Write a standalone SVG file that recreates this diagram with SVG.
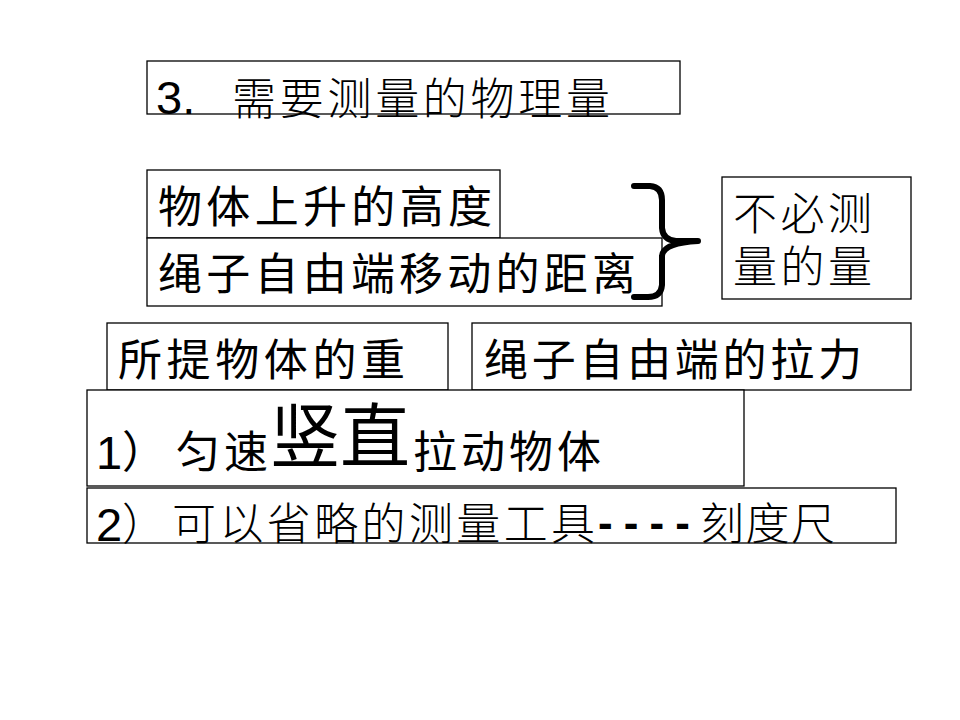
<svg xmlns="http://www.w3.org/2000/svg" width="960" height="720" viewBox="0 0 960 720">
<style>
.box{fill:#fff;stroke:#000;stroke-width:1.3}
.t{font-family:"Liberation Sans","Noto Sans CJK SC",sans-serif;font-size:44px;fill:#000;dominant-baseline:central}
.s{font-family:"Liberation Serif","Noto Sans CJK SC",serif;font-size:44px;fill:#000;font-weight:300;dominant-baseline:central}
.n{font-family:"Liberation Sans",sans-serif;font-size:47px;fill:#000}
.brace{fill:none;stroke:#000;stroke-width:6;stroke-linejoin:round;stroke-linecap:round}
</style>
<rect width="960" height="720" fill="#fff"/>
<g id="title">
<rect class="box" x="147" y="61" width="533" height="53"/>
<text class="n" x="156" y="114">3.</text>
<text class="s" x="232" y="100" textLength="378" lengthAdjust="spacing">需要测量的物理量</text>
</g>
<g id="height">
<rect class="box" x="147" y="170" width="353" height="68"/>
<text class="t" x="158" y="207" textLength="334" lengthAdjust="spacing">物体上升的高度</text>
</g>
<g id="distance">
<rect class="box" x="147" y="238" width="515" height="68"/>
<text class="t" x="158" y="274" textLength="478" lengthAdjust="spacing">绳子自由端移动的距离</text>
</g>
<g id="connectors">
<path class="brace" d="M634,186 L650,186 Q662,187 662,200 L662,228 Q663,240 676,241 L698,241 Q663,243 662,256 L662,285 Q661,297 648,297 L634,297"/>
</g>
<g id="notneeded">
<rect class="box" x="722" y="177" width="189" height="122"/>
<text class="s" x="733" y="215" textLength="139" lengthAdjust="spacing">不必测</text>
<text class="s" x="733" y="268" textLength="139" lengthAdjust="spacing">量的量</text>
</g>
<g id="weight">
<rect class="box" x="107" y="323" width="341" height="67"/>
<text class="t" x="118" y="360" textLength="287" lengthAdjust="spacing">所提物体的重</text>
</g>
<g id="pull">
<rect class="box" x="472" y="323" width="439" height="67"/>
<text class="t" x="484" y="360" textLength="378" lengthAdjust="spacing">绳子自由端的拉力</text>
</g>
<g id="note1">
<rect class="box" x="87" y="390" width="657" height="96"/>
<text class="n" x="96" y="469">1</text>
<text class="t" x="122" y="452">）</text>
<text class="t" x="176" y="452" textLength="92" lengthAdjust="spacing">匀速</text>
<text class="t" x="270" y="438" style="font-size:70px" textLength="140" lengthAdjust="spacing">竖直</text>
<text class="t" x="413" y="452" textLength="188" lengthAdjust="spacing">拉动物体</text>
</g>
<g id="note2">
<rect class="box" x="87" y="488" width="809" height="55"/>
<text class="n" x="96" y="541">2</text>
<text class="s" x="122" y="525">）</text>
<text class="s" x="172" y="525" textLength="423" lengthAdjust="spacing">可以省略的测量工具</text>
<text class="t" x="598" y="522" style="font-weight:bold" textLength="92" lengthAdjust="spacing">----</text>
<text class="s" x="700" y="525" textLength="135" lengthAdjust="spacing">刻度尺</text>
</g>
</svg>
